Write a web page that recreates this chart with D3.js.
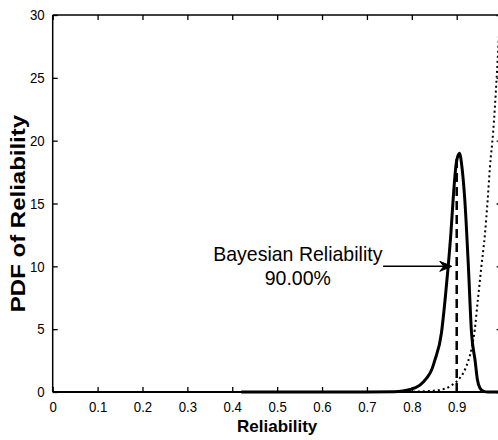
<!DOCTYPE html>
<html>
<head>
<meta charset="utf-8">
<script src="https://cdn.jsdelivr.net/npm/d3@7"></script>
<style>
  html, body { margin: 0; padding: 0; background: #fff; }
  svg { display: block; }
  text { font-family: "Liberation Sans", Arial, sans-serif; fill: #000; }
</style>
</head>
<body>
<svg id="chart" width="498" height="440"></svg>
<script>
// Posterior PDF of reliability (solid)
const posteriorX = [0.42, 0.50, 0.60, 0.70, 0.76, 0.78, 0.796, 0.818, 0.833, 0.844, 0.851, 0.866, 0.874, 0.881, 0.887, 0.892, 0.899, 0.906, 0.912, 0.918, 0.926, 0.933, 0.941, 0.946, 0.952, 0.960, 0.970, 1.00];
const posteriorY = [0, 0, 0, 0, 0.02, 0.08, 0.2, 0.55, 1.1, 1.75, 2.5, 4.7, 7.3, 10.0, 12.6, 15.3, 18.2, 19.0, 17.8, 15.3, 10.0, 4.7, 2.5, 1.0, 0.3, 0.05, 0, 0];

// Second density near R = 1 (dotted)
const priorX = [0.78, 0.82, 0.847, 0.877, 0.889, 0.903, 0.918, 0.926, 0.934, 0.940, 0.947, 0.955, 0.963, 0.969, 0.974, 0.981, 0.989, 0.995];
const priorY = [0, 0.05, 0.1, 0.3, 0.55, 0.95, 1.75, 2.5, 3.6, 4.9, 7.3, 10.0, 12.6, 15.3, 17.9, 20.6, 25.0, 29.0];

// Bayesian reliability estimate (dashed marker)
const bayesReliability = 0.90;
const bayesPdf = 18.6;

// Axis ticks (the tick at R = 1 sits on the clipped right edge, so it carries no label)
const xTicks = [0, 0.1, 0.2, 0.3, 0.4, 0.5, 0.6, 0.7, 0.8, 0.9, 1.0];
const xTickLabels = ["0", "0.1", "0.2", "0.3", "0.4", "0.5", "0.6", "0.7", "0.8", "0.9", ""];
const yTicks = [0, 5, 10, 15, 20, 25, 30];
const yTickLabels = ["0", "5", "10", "15", "20", "25", "30"];

// Annotation
const annotLines = ["Bayesian Reliability", "90.00%"];
const annotAnchor = [0.546, 10.4];
const arrowFrom = [0.736, 10.0];
const arrowTo = [0.889, 10.0];

const svg = d3.select("#chart");
const plotL = 52.7, plotR = 501.6, plotT = 15, plotB = 392;

const x = d3.scaleLinear().domain([0, 1]).range([plotL, plotR]);
const y = d3.scaleLinear().domain([0, 30]).range([plotB, plotT]);

// Ticks (pointing inward on all four sides)
const tickLen = 5;
const sx = 0.88;
const xAxisB = d3.axisBottom(x).tickValues(xTicks).tickSize(-tickLen).tickFormat((d, i) => xTickLabels[i]).tickPadding(9);
const xAxisT = d3.axisTop(x).tickValues(xTicks).tickSize(-tickLen).tickFormat("");
const yAxisL = d3.axisLeft(y).tickValues(yTicks).tickSize(-tickLen).tickFormat((d, i) => yTickLabels[i]).tickPadding(8);
const yAxisR = d3.axisRight(y).tickValues(yTicks).tickSize(-tickLen).tickFormat("");

function styleAxis(g) {
  g.select(".domain").remove();
  g.selectAll(".tick line").attr("stroke", "#000").attr("stroke-width", 1.3);
  g.selectAll(".tick text")
    .attr("font-size", 15)
    .attr("font-family", "'Liberation Sans', Arial, sans-serif")
    .attr("fill", "#000");
}

// Condense tick labels horizontally around their own anchor
function condense(g) {
  g.selectAll(".tick text").each(function () {
    const t = d3.select(this);
    const tx = +t.attr("x") || 0;
    t.attr("x", tx / sx).attr("transform", `scale(${sx},1)`);
  });
}

svg.append("g").attr("transform", `translate(0,${plotB})`).call(xAxisB).call(styleAxis).call(condense);
svg.append("g").attr("transform", `translate(0,${plotT})`).call(xAxisT).call(styleAxis);
svg.append("g").attr("transform", `translate(${plotL},0)`).call(yAxisL).call(styleAxis).call(condense);
svg.append("g").attr("transform", `translate(${plotR},0)`).call(yAxisR).call(styleAxis);

// Axes frame lines
svg.append("line").attr("x1", plotL).attr("x2", plotR + 1).attr("y1", plotB).attr("y2", plotB)
  .attr("stroke", "#000").attr("stroke-width", 2);
svg.append("line").attr("x1", plotL).attr("x2", plotR).attr("y1", plotT).attr("y2", plotT)
  .attr("stroke", "#000").attr("stroke-width", 1.5);
svg.append("line").attr("x1", plotL).attr("x2", plotL).attr("y1", plotT).attr("y2", plotB)
  .attr("stroke", "#000").attr("stroke-width", 1.5);
svg.append("line").attr("x1", plotR).attr("x2", plotR).attr("y1", plotT).attr("y2", plotB)
  .attr("stroke", "#000").attr("stroke-width", 1.5);

const line = d3.line().x(d => x(d[0])).y(d => y(d[1])).curve(d3.curveMonotoneX);

// Dotted density
svg.append("path")
  .datum(priorX.map((v, i) => [v, priorY[i]]))
  .attr("d", line)
  .attr("fill", "none")
  .attr("stroke", "#000")
  .attr("stroke-width", 2)
  .attr("stroke-dasharray", "2,3");

// Dashed marker at the Bayesian estimate
svg.append("line")
  .attr("x1", x(bayesReliability)).attr("x2", x(bayesReliability))
  .attr("y1", y(0)).attr("y2", y(bayesPdf))
  .attr("stroke", "#000").attr("stroke-width", 2.5)
  .attr("stroke-dasharray", "9,5");

// Solid posterior
svg.append("path")
  .datum(posteriorX.map((v, i) => [v, posteriorY[i]]))
  .attr("d", line)
  .attr("fill", "none")
  .attr("stroke", "#000")
  .attr("stroke-width", 3)
  .attr("stroke-linejoin", "round");

// Annotation arrow
const ax0 = x(arrowFrom[0]), ay0 = y(arrowFrom[1]);
const ax1 = x(arrowTo[0]), ay1 = y(arrowTo[1]);
svg.append("line")
  .attr("x1", ax0).attr("y1", ay0).attr("x2", ax1 - 6).attr("y2", ay1)
  .attr("stroke", "#000").attr("stroke-width", 1.5);
svg.append("path")
  .attr("d", `M${ax1},${ay1} L${ax1 - 12},${ay1 - 5} L${ax1 - 8},${ay1} L${ax1 - 12},${ay1 + 5} Z`)
  .attr("fill", "#000").attr("stroke", "#000").attr("stroke-width", 1);

// Annotation text
const ann = svg.append("g")
  .attr("transform", `translate(${x(annotAnchor[0])},${y(annotAnchor[1])}) scale(0.93,1)`);
ann.selectAll("text")
  .data(annotLines)
  .join("text")
  .attr("x", 0)
  .attr("y", (d, i) => i * 23.5)
  .attr("text-anchor", "middle")
  .attr("font-size", 21)
  .text(d => d);

// Axis titles
svg.append("text")
  .attr("transform", `translate(${x(0.5)},431.7)`)
  .attr("text-anchor", "middle")
  .attr("font-size", 17)
  .attr("font-weight", "bold")
  .text("Reliability");

svg.append("text")
  .attr("transform", `translate(24.5,213.5) rotate(-90) scale(1.2,1)`)
  .attr("text-anchor", "middle")
  .attr("font-size", 20)
  .attr("font-weight", "bold")
  .text("PDF of Reliability");
</script>
</body>
</html>
